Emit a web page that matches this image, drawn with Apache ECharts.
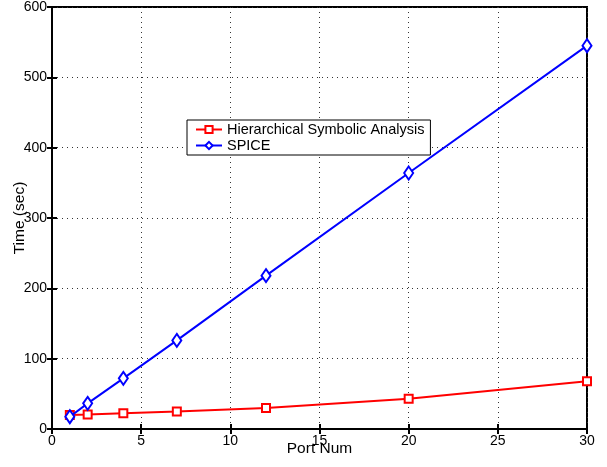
<!DOCTYPE html>
<html lang="en">
<head>
    <meta charset="UTF-8">
    <title>ECharts</title>
    <script src="https://cdn.jsdelivr.net/npm/echarts@6/dist/echarts.min.js"></script>
    <style type="text/css">
        *{margin: 0;padding: 0;border: none}
        html,body{width: 100%;height: 100%;overflow: hidden;background: #fff}
        #main{width: 607px;height: 467px}
    </style>
</head>
<body>
<div id="main"></div>
<script type="text/javascript">
    var portNum = [1, 2, 4, 7, 12, 20, 30];
    var hsaTime = [20, 20.5, 22.5, 25, 30, 43, 68];
    var spiceTime = [17.5, 36.5, 72, 126, 218, 364, 545];

    function pairs(xs, ys) {
        var out = [];
        for (var i = 0; i < xs.length; i++) out.push([xs[i], ys[i]]);
        return out;
    }

    var myChart = echarts.init(document.getElementById('main'));
    var font = 'Liberation Sans, Arial, sans-serif';
    var gridLine = {show: true, lineStyle: {color: '#333', type: [1, 4], width: 1}};

    var option = {
        backgroundColor: '#fff',
        animation: false,
        grid: {
            left: 52, right: 20, top: 7, bottom: 38,
            outerBoundsMode: 'none',
            containLabel: false,
            show: true, borderColor: '#000', borderWidth: 2
        },
        legend: {
            orient: 'vertical',
            left: 187, top: 120,
            padding: [2, 6, 2, 8],
            itemGap: 1,
            itemWidth: 26, itemHeight: 9,
            borderColor: '#000', borderWidth: 1,
            backgroundColor: '#fff',
            textStyle: {fontFamily: font, fontSize: 14.5, color: '#000'},
            data: ['Hierarchical Symbolic Analysis', 'SPICE']
        },
        xAxis: [{
            type: 'value', min: 0, max: 30, interval: 5,
            name: 'Port Num', nameLocation: 'middle', nameGap: 12, nameMoveOverlap: false,
            nameTextStyle: {fontFamily: font, fontSize: 15.5, color: '#000'},
            axisLine: {show: true, lineStyle: {color: '#000', width: 2}},
            axisTick: {show: true, inside: true, length: 5, lineStyle: {color: '#000', width: 2}},
            axisLabel: {fontFamily: font, fontSize: 14, color: '#000', margin: 5},
            splitLine: gridLine
        }, {
            type: 'value', min: 0, max: 30, interval: 5, position: 'top',
            axisLine: {show: true, lineStyle: {color: '#000', width: 2}},
            axisTick: {show: true, inside: true, length: 5, lineStyle: {color: '#000', width: 2}},
            axisLabel: {show: false}, splitLine: {show: false}
        }],
        yAxis: [{
            type: 'value', min: 0, max: 600, interval: 100,
            name: 'Time (sec)', nameLocation: 'middle', nameGap: 24, nameRotate: 90, nameMoveOverlap: false,
            nameTextStyle: {fontFamily: font, fontSize: 15.5, color: '#000'},
            axisLine: {show: true, lineStyle: {color: '#000', width: 2}},
            axisTick: {show: true, inside: true, length: 5, lineStyle: {color: '#000', width: 2}},
            axisLabel: {fontFamily: font, fontSize: 14, color: '#000', margin: 5},
            splitLine: gridLine
        }, {
            type: 'value', min: 0, max: 600, interval: 100, position: 'right',
            axisLine: {show: true, lineStyle: {color: '#000', width: 2}},
            axisTick: {show: true, inside: true, length: 5, lineStyle: {color: '#000', width: 2}},
            axisLabel: {show: false}, splitLine: {show: false}
        }],
        series: [{
            name: 'Hierarchical Symbolic Analysis',
            type: 'line',
            data: pairs(portNum, hsaTime),
            symbol: 'emptyRect', symbolSize: 8,
            itemStyle: {color: '#ff0000', borderWidth: 2},
            lineStyle: {color: '#ff0000', width: 2},
            z: 3
        }, {
            name: 'SPICE',
            type: 'line',
            data: pairs(portNum, spiceTime),
            symbol: 'emptyDiamond', symbolSize: [9, 13],
            itemStyle: {color: '#0000ff', borderWidth: 2},
            lineStyle: {color: '#0000ff', width: 2},
            z: 4
        }]
    };
    myChart.setOption(option);
</script>
</body>
</html>
